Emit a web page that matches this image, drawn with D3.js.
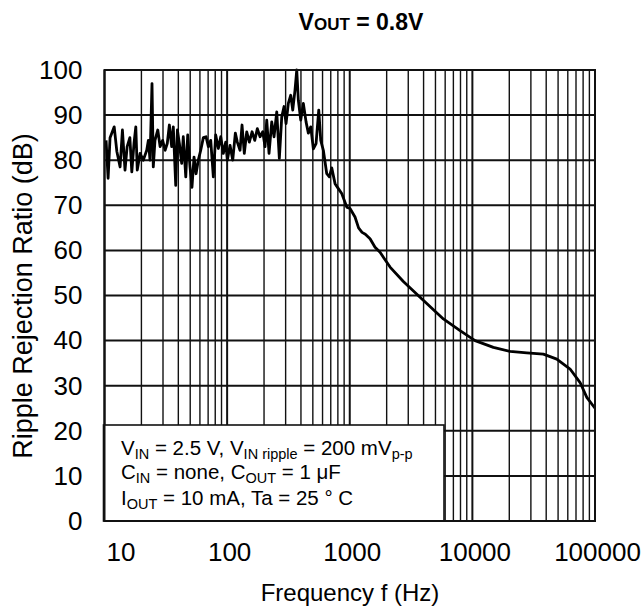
<!DOCTYPE html>
<html>
<head>
<meta charset="utf-8">
<script src="https://cdn.jsdelivr.net/npm/d3@7"></script>
<style>
  body { margin: 0; background: #fff; }
  svg text { font-family: "Liberation Sans", Arial, sans-serif; fill: #000; }
</style>
</head>
<body>
<svg id="chart" width="643" height="614"></svg>
<script>
// frequency (Hz) and ripple rejection (dB)
let freqHz = [
    10.3, 10.7, 11.1, 12.0, 12.6, 13.4, 14.0, 14.7, 15.3, 16.1,
    16.7, 17.4, 18.0, 18.5, 19.5, 20.7, 22.1, 22.8, 23.5, 24.4,
    25.0, 25.8, 27.2, 28.4, 29.8, 31.2, 32.5, 33.8, 35.3, 36.4,
    38.1, 39.3, 40.8, 42.6, 43.9, 46.0, 47.7, 49.8, 51.7, 53.7,
    55.8, 58.2, 60.9, 64.0, 67.3, 70.3, 73.5, 77.2, 80.7, 84.8,
    88.7, 93.1, 97.4, 100.4, 105.6, 111.1, 116.7, 121.1, 127.4, 132.3,
    138.1, 144.5, 151.8, 159.7, 168.0, 176.4, 185.5, 195.2, 203.8, 210.4,
    219.7, 231.1, 241.3, 253.9, 266.6, 278.9, 291.2, 302.3, 315.6, 330.2,
    342.8, 357.9, 369.6, 380.9, 398.4, 418.4, 440.2, 459.6, 480.8, 504.8,
    531.1, 558.7, 580.1, 609.1, 649.3, 681.8, 713, 758.9, 807.2, 860.4,
    945.2, 1005, 1104, 1180, 1260, 1340, 1464, 1608, 1767, 1880,
    2132, 2736, 3745, 5800, 7938, 10520, 14840, 20300, 27780, 37940,
    48800, 62660, 75600, 85720, 100000
];
let rrDb = [
    84.4, 76.0, 85.0, 87.4, 82.0, 78.5, 86.7, 77.8, 83.0, 85.0,
    77.4, 83.7, 87.4, 77.8, 81.5, 80.0, 82.2, 84.4, 80.0, 97.0,
    78.5, 84.4, 86.7, 83.0, 84.4, 82.2, 83.7, 87.8, 83.0, 87.4,
    74.4, 86.7, 83.7, 79.3, 85.2, 76.3, 85.6, 78.5, 74.0, 80.7,
    77.0, 80.0, 82.2, 85.0, 85.2, 83.0, 84.4, 76.3, 85.6, 82.6,
    85.2, 81.5, 84.0, 80.0, 83.3, 80.0, 86.0, 84.0, 82.2, 87.8,
    81.5, 86.3, 84.0, 86.3, 84.4, 87.0, 85.2, 86.3, 83.0, 88.9,
    81.5, 88.5, 85.2, 90.7, 80.4, 89.6, 91.9, 88.1, 92.6, 94.4,
    91.1, 95.6, 100.0, 93.3, 88.9, 92.6, 88.5, 86.0, 87.4, 82.5,
    83.7, 91.1, 84.4, 82.2, 77.0, 76.3, 78.3, 74.8, 73.7, 72.6,
    69.6, 69.3, 67.4, 65.0, 64.0, 63.6, 62.6, 60.7, 59.6, 58.5,
    56.3, 53.1, 49.6, 44.8, 42.2, 40.0, 38.5, 37.6, 37.3, 37.0,
    35.9, 33.7, 30.7, 27.4, 25.0
];
let xTickLabels = [10, 100, 1000, 10000, 100000];
let yTickLabels = [0, 10, 20, 30, 40, 50, 60, 70, 80, 90, 100];

let svg = d3.select("#chart"),
    pLeft = 104.5, pRight = 595, pTop = 70, pBottom = 521;

let xScale = d3.scaleLog().domain([10, 100000]).range([pLeft, pRight]),
    yScale = d3.scaleLinear().domain([0, 100]).range([pBottom, pTop]);

// title
let title = svg.append("text")
    .attr("x", 361).attr("y", 30)
    .attr("text-anchor", "middle")
    .style("font-family", "'Liberation Sans Narrow', 'Arial Narrow', sans-serif")
    .style("font-weight", "bold")
    .style("font-size", "23px");
title.append("tspan").text("V");
title.append("tspan").style("font-size", "17px").text("OUT");
title.append("tspan").text(" = 0.8V");

// grid
let g = svg.append("g");
g.selectAll(".vgrid")
    .data(xScale.ticks())
    .enter()
    .append("line")
    .attr("x1", d => xScale(d)).attr("x2", d => xScale(d))
    .attr("y1", pTop).attr("y2", pBottom)
    .attr("stroke", "#111")
    .attr("stroke-width", d => xTickLabels.indexOf(d) >= 0 ? 2 : 1.4);
g.selectAll(".hgrid")
    .data(yTickLabels)
    .enter()
    .append("line")
    .attr("x1", pLeft).attr("x2", pRight)
    .attr("y1", d => yScale(d)).attr("y2", d => yScale(d))
    .attr("stroke", "#111")
    .attr("stroke-width", 2);

// axes labels
let yAxis = d3.axisLeft(yScale).tickValues(yTickLabels).tickSize(0).tickPadding(22);
svg.append("g").attr("transform", "translate(" + pLeft + ",0)").call(yAxis)
    .call(a => a.select(".domain").remove())
    .selectAll("text").style("font-size", "26px").attr("font-family", null);
let xAxis = d3.axisBottom(xScale).tickValues(xTickLabels).tickFormat(d3.format("d")).tickSize(0).tickPadding(22);
svg.append("g").attr("transform", "translate(0," + pBottom + ")").call(xAxis)
    .call(a => a.select(".domain").remove())
    .selectAll("text").style("font-size", "26px").attr("font-family", null)
    .attr("dx", d => d === 10 ? 16 : 2);

svg.append("text")
    .attr("x", 350).attr("y", 601)
    .attr("text-anchor", "middle")
    .style("font-size", "24px")
    .text("Frequency f (Hz)");
svg.append("text")
    .attr("transform", "translate(32,296) rotate(-90)")
    .attr("text-anchor", "middle")
    .style("font-size", "27px")
    .text("Ripple Rejection Ratio (dB)");

// condition box
svg.append("rect")
    .attr("x", 103.5).attr("y", 425)
    .attr("width", 340.5).attr("height", 96)
    .attr("fill", "#fff").attr("stroke", "#111").attr("stroke-width", 1.6);

function condLine(y, parts) {
    let t = svg.append("text").attr("x", 121).attr("y", y).style("font-size", "20.5px");
    parts.forEach(p => {
        let s = t.append("tspan").text(p[0]);
        if (p[1]) s.style("font-size", "14.5px").attr("dy", 3.5);
        else if (p[2]) s.attr("dy", -3.5);
    });
}
condLine(455, [["V"], ["IN", 1], [" = 2.5 V, V", 0, 1], ["IN ripple", 1], [" = 200 mV", 0, 1], ["p-p", 1]]);
condLine(479, [["C"], ["IN", 1], [" = none, C", 0, 1], ["OUT", 1], [" = 1 μF", 0, 1]]);
condLine(505, [["I"], ["OUT", 1], [" = 10 mA, Ta = 25 ", 0, 1], ["°", 0], ["  C"]]);

// curve
let line = d3.line()
    .x((d, i) => xScale(freqHz[i]))
    .y(d => yScale(d));
svg.append("path")
    .datum(rrDb)
    .attr("d", line)
    .attr("fill", "none")
    .attr("stroke", "#000")
    .attr("stroke-width", 2.8)
    .attr("stroke-linejoin", "round");

// frame
svg.append("rect")
    .attr("x", pLeft).attr("y", pTop)
    .attr("width", pRight - pLeft).attr("height", pBottom - pTop)
    .attr("fill", "none").attr("stroke", "#111").attr("stroke-width", 2);
</script>
</body>
</html>
